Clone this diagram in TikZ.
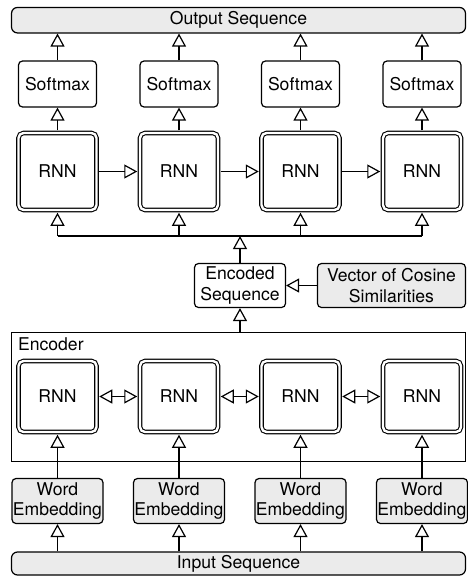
\documentclass[tikz,border=0pt]{standalone}
\usepackage{fontspec}
\setmainfont{TeX Gyre Heros}
\usetikzlibrary{arrows.meta,positioning}
\definecolor{boxgrey}{RGB}{235,235,235}

\begin{document}
\begin{tikzpicture}[
		x=1pt, y=-1pt,
		every node/.style={font=\fontsize{17.6}{20.5}\selectfont, align=center, inner sep=0pt},
		box/.style={draw, line width=1.2pt, rounded corners=4pt},
		greybox/.style={box, fill=boxgrey},
		rnn/.style={draw, line width=1.1pt, double, double distance=2.4pt, rounded corners=5pt, minimum width=78pt},
		seqbar/.style={draw, line width=1.2pt, fill=boxgrey, rounded corners=6pt, minimum width=454pt},
		flow/.style={line width=1.2pt, -{Triangle[open, length=13pt, width=14pt]}},
		biflow/.style={line width=1.2pt, {Triangle[open, length=13pt, width=14pt]}-{Triangle[open, length=13pt, width=14pt]}}
	]
	\useasboundingbox (0,0) rectangle (467,576);

	\node[seqbar, minimum height=25.5pt] (out) at (238.5,20.2) {Output Sequence};
	\node[seqbar, minimum height=23pt] (in) at (238.5,563.5) {Input Sequence};

	\foreach \i/\x in {1/57.5,2/179,3/300.5,4/422} {
		\node[box, minimum width=78pt, minimum height=46pt] (s\i) at (\x,84) {Softmax};
		\node[rnn, minimum height=77pt] (r\i) at (\x,171.5) {RNN};
		\node[rnn, minimum height=71pt] (e\i) at (\x,396.5) {RNN};
		\node[greybox, minimum width=91pt, minimum height=45pt] (w\i) at (\x,501) {Word\\Embedding};
	}

	\node[box, minimum width=91pt, minimum height=44pt] (es) at (240,285.5) {Encoded\\Sequence};
	\node[greybox, minimum width=148pt, minimum height=44pt] (vcs) at (391.5,285.5) {Vector of Cosine\\Similarities};
	\node[draw, line width=1.2pt, minimum width=454pt, minimum height=129pt] (enc) at (238.5,397) {};
	\node[anchor=north west] (enclabel) at ([xshift=7pt,yshift=-6pt]enc.north west) {Encoder};
	\coordinate (bus) at (0,236);

	\foreach \i in {1,...,4} {
		\draw[flow] (s\i) -- (s\i |- out.south);
		\draw[flow, shorten <=2.2pt] (r\i) -- (s\i);
		\draw[flow, shorten >=2.2pt] (r\i |- bus) -- (r\i);
		\draw[flow, shorten >=2.2pt] (w\i) -- (e\i);
		\draw[flow] (w\i |- in.north) -- (w\i);
	}
	\draw[line width=1.2pt] (r1 |- bus) -- (r4 |- bus);

	\foreach \a/\b in {1/2,2/3,3/4} {
		\draw[flow, shorten <=2.2pt, shorten >=2.2pt] (r\a) -- (r\b);
		\draw[biflow, shorten <=2.2pt, shorten >=2.2pt] (e\a) -- (e\b);
	}

	\draw[flow] (vcs) -- (es);
	\draw[flow] (es) -- (es |- bus);
	\draw[flow] (es |- enc.north) -- (es);
\end{tikzpicture}
\end{document}
